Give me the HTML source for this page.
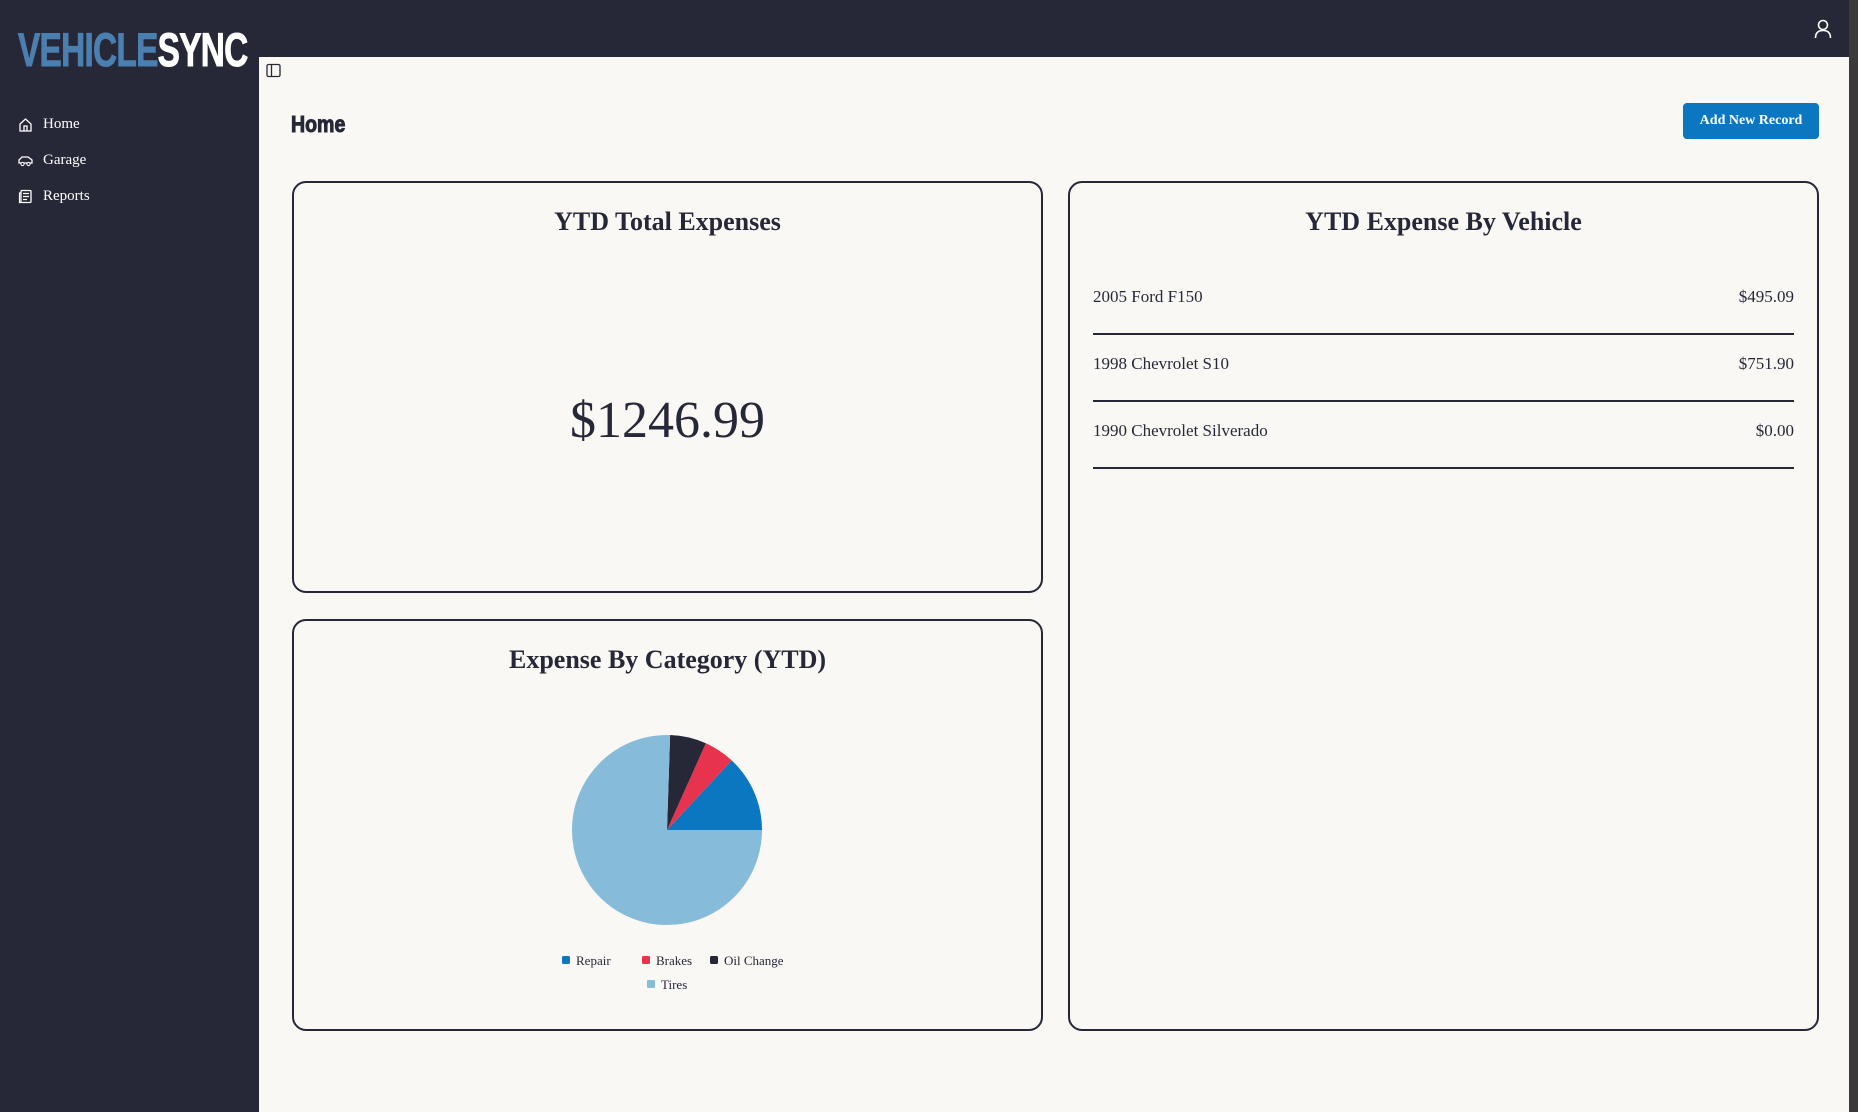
<!DOCTYPE html>
<html><head><meta charset="utf-8">
<style>
*{box-sizing:border-box;margin:0;padding:0}
body{width:1858px;height:1112px;overflow:hidden;background:#262838;font-family:"Liberation Serif","DejaVu Serif",serif;color:#262838;position:relative}
.abs{position:absolute}
#main{left:259px;top:57px;width:1590px;height:1055px;background:#f9f8f5}
#scroll{left:1849px;top:0;width:9px;height:1112px;background:#3a3a3a}
.logo{left:18px;top:22px;font-family:"Liberation Sans",sans-serif;font-weight:bold;font-size:47px;letter-spacing:-1px;transform:scaleX(0.71);transform-origin:left top;white-space:nowrap;-webkit-text-stroke:1px currentColor}
.nav{left:18px;color:#fff;font-size:15px;display:flex;align-items:center;gap:10px}
.card{border:2px solid #262838;border-radius:14px;background:#f9f8f5}
.ctitle{position:absolute;left:0;right:0;text-align:center;font-weight:bold;font-size:26px}
.row{position:absolute;left:23px;right:23px;height:67px;border-bottom:2px solid #262838;font-size:17px}
.row span{position:absolute;top:19px}
</style></head><body>
<div class="abs" id="main"></div>
<div class="abs" id="scroll"></div>
<div class="abs logo"><span style="color:#4a7fb0">VEHICLE</span><span style="color:#fff">SYNC</span></div>
<svg class="abs" style="left:1814px;top:19px" width="18" height="20"><circle cx="9" cy="6" r="4.5" fill="none" stroke="#fff" stroke-width="1.6"/><path d="M1.5 19 Q1.5 11.5 9 11.5 Q16.5 11.5 16.5 19" fill="none" stroke="#fff" stroke-width="1.6"/></svg>
<div class="abs nav" style="top:116px"><svg width="15" height="15"><path d="M2 7 L7.5 2 L13 7 V14 H2 Z M6 14 V9 H9 V14" fill="none" stroke="#fff" stroke-width="1.3"/></svg>Home</div>
<div class="abs nav" style="top:152px"><svg width="15" height="15"><path d="M1 10 V7 L4 4 H10 L14 7 V10 Z" fill="none" stroke="#fff" stroke-width="1.3"/><circle cx="4.5" cy="11" r="1.6" fill="#262838" stroke="#fff"/><circle cx="10.5" cy="11" r="1.6" fill="#262838" stroke="#fff"/></svg>Garage</div>
<div class="abs nav" style="top:188px"><svg width="15" height="15"><rect x="3" y="1.5" width="10" height="12" rx="1" fill="none" stroke="#fff" stroke-width="1.3"/><path d="M3 4 H1.5 V13.5 H3 M5 4.5 H11 M5 7.5 H11 M5 10.5 H9" stroke="#fff" stroke-width="1.2" fill="none"/></svg>Reports</div>
<svg class="abs" style="left:266px;top:63px" width="15" height="15"><rect x="1" y="1.5" width="13" height="12" rx="1.5" fill="none" stroke="#262838" stroke-width="1.3"/><line x1="5.5" y1="1.5" x2="5.5" y2="13.5" stroke="#262838" stroke-width="1.3"/></svg>
<div class="abs" style="left:291px;top:111px;font-family:'Liberation Sans',sans-serif;font-weight:bold;font-size:23px;transform:scaleX(0.85);transform-origin:left;-webkit-text-stroke:1px #262838">Home</div>
<div class="abs" style="left:1683px;top:103px;width:136px;height:36px;background:#0a77c0;border-radius:4px;color:#fff;font-size:14px;font-weight:bold;display:flex;align-items:center;justify-content:center">Add New Record</div>

<div class="abs card" style="left:292px;top:181px;width:751px;height:412px">
<div class="ctitle" style="top:24px">YTD Total Expenses</div>
<div class="ctitle" style="top:208px;font-weight:normal;font-size:52px">$1246.99</div>
</div>

<div class="abs card" style="left:1068px;top:181px;width:751px;height:850px">
<div class="ctitle" style="top:24px">YTD Expense By Vehicle</div>
<div class="row" style="top:85px"><span style="left:0">2005 Ford F150</span><span style="right:0">$495.09</span></div>
<div class="row" style="top:152px"><span style="left:0">1998 Chevrolet S10</span><span style="right:0">$751.90</span></div>
<div class="row" style="top:219px"><span style="left:0">1990 Chevrolet Silverado</span><span style="right:0">$0.00</span></div>
</div>

<div class="abs card" style="left:292px;top:619px;width:751px;height:412px">
<div class="ctitle" style="top:24px">Expense By Category (YTD)</div>
</div>
<svg class="abs" id="pie" style="left:292px;top:619px" width="751" height="412"></svg>

<script>
const categories=["Repair","Brakes","Oil Change","Tires"];
const values=[163,65,77,941];
const colors=["#0a77c0","#e8334f","#262838","#86bcda"];
const svg=document.getElementById('pie');
const NS="http://www.w3.org/2000/svg";
const cx=375,cy=211,r=95;
const total=values.reduce((a,b)=>a+b,0);
let a0=0;
values.forEach((v,i)=>{
  const a1=a0+v/total*2*Math.PI;
  const x0=cx+r*Math.cos(a0),y0=cy-r*Math.sin(a0);
  const x1=cx+r*Math.cos(a1),y1=cy-r*Math.sin(a1);
  const large=(a1-a0)>Math.PI?1:0;
  const p=document.createElementNS(NS,'path');
  p.setAttribute('d',`M${cx},${cy} L${x0},${y0} A${r},${r} 0 ${large} 0 ${x1},${y1} Z`);
  p.setAttribute('fill',colors[i]);
  
  
  svg.appendChild(p);
  a0=a1;
});
const legendPos=[[270,341],[350,341],[418,341],[355,365]];
categories.forEach((c,i)=>{
  const g=document.createElementNS(NS,'g');
  
  
  const [x,y]=legendPos[i];
  const rc=document.createElementNS(NS,'rect');
  rc.setAttribute('x',x);rc.setAttribute('y',y-4);rc.setAttribute('width',8);rc.setAttribute('height',8);rc.setAttribute('rx',1.5);rc.setAttribute('fill',colors[i]);
  const t=document.createElementNS(NS,'text');
  t.setAttribute('x',x+14);t.setAttribute('y',y+5);t.setAttribute('font-size','13');t.setAttribute('fill','#262838');
  t.setAttribute('font-family','Liberation Serif, serif');
  t.textContent=c;
  g.appendChild(rc);g.appendChild(t);svg.appendChild(g);
});
</script>
</body></html>
